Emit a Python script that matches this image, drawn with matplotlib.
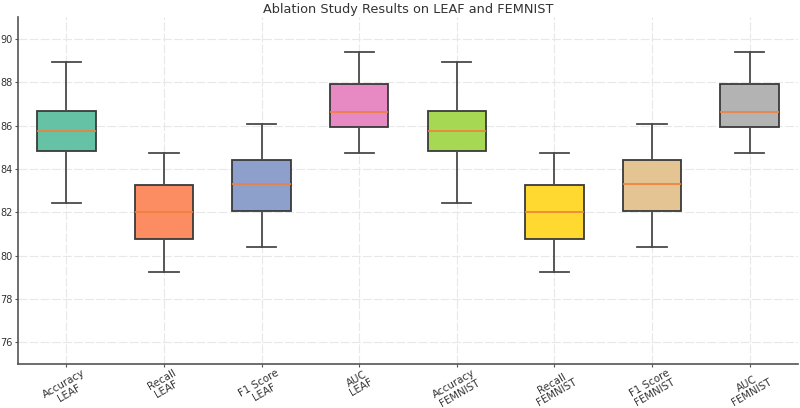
import matplotlib
matplotlib.use("Agg")
import matplotlib.pyplot as plt

labels = ["Accuracy\nLEAF", "Recall\nLEAF", "F1 Score\nLEAF", "AUC\nLEAF",
          "Accuracy\nFEMNIST", "Recall\nFEMNIST", "F1 Score\nFEMNIST", "AUC\nFEMNIST"]
whislo = [82.44, 79.23, 80.38, 84.71, 82.44, 79.23, 80.38, 84.71]
q1     = [84.84, 80.77, 82.07, 85.92, 84.84, 80.77, 82.07, 85.92]
med    = [85.76, 82.02, 83.30, 86.61, 85.76, 82.02, 83.30, 86.61]
q3     = [86.68, 83.27, 84.43, 87.92, 86.68, 83.27, 84.43, 87.92]
whishi = [88.94, 84.71, 86.08, 89.39, 88.94, 84.71, 86.08, 89.39]
colors = ["#66c2a5", "#fc8d62", "#8da0cb", "#e78ac3",
          "#a6d854", "#ffd92f", "#e5c494", "#b3b3b3"]
title = "Ablation Study Results on LEAF and FEMNIST"

fig = plt.figure(figsize=(8, 4.08), dpi=100)
ax = fig.add_axes([0.022, 0.108, 0.976, 0.85])

stats = []
for i in range(len(labels)):
    stats.append(dict(whislo=whislo[i], q1=q1[i], med=med[i], q3=q3[i],
                      whishi=whishi[i], fliers=[], label=labels[i]))

edge = "#3a3a3a"
bp = ax.bxp(stats, widths=0.6, patch_artist=True, showfliers=False,
            boxprops=dict(edgecolor=edge, linewidth=1.3),
            whiskerprops=dict(color="#4a4a4a", linewidth=1.3),
            capprops=dict(color="#4a4a4a", linewidth=1.3),
            medianprops=dict(color="#f07f3c", linewidth=1.2))
for patch, c in zip(bp["boxes"], colors):
    patch.set_facecolor(c)
    patch.set_zorder(2)

ax.set_xlim(0.5, 8.5)
ax.set_ylim(75, 91)
ax.set_yticks([76, 78, 80, 82, 84, 86, 88, 90])
ax.grid(True, color="#e8e8e8", linewidth=0.8, linestyle=(0, (8, 2)))
ax.set_axisbelow(True)
for s in ["top", "right"]:
    ax.spines[s].set_visible(False)
for s in ["left", "bottom"]:
    ax.spines[s].set_color("#555555")
    ax.spines[s].set_linewidth(1.2)
ax.tick_params(axis="both", colors="#555555", labelcolor="#333333",
               length=2.5, width=0.8)
ax.tick_params(axis="y", labelsize=7, pad=0.8)
ax.tick_params(axis="x", labelsize=7.4, pad=0.5)
plt.setp(ax.get_xticklabels(), rotation=30, ha="center", linespacing=1.0)
ax.set_title(title, fontsize=9.3, color="#333333", pad=3)

fig.savefig("out.png", dpi=100)
